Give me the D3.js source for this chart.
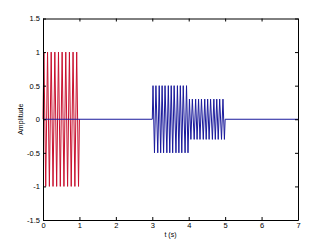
<!DOCTYPE html>
<html>
<head>
<meta charset="utf-8">
<script src="https://cdn.jsdelivr.net/npm/d3@7"></script>
<style>
  body { margin: 0; background: #fff; }
  svg { display: block; font-family: "Liberation Sans", Arial, sans-serif; }
  .axis text { font-size: 7.5px; fill: #000; }
  .axis path, .axis line { stroke: #000; stroke-width: 1; }
</style>
</head>
<body>
<script>
// Data (turning points of the waveforms)
var xTicks = [0, 1, 2, 3, 4, 5, 6, 7];
var yTicks = [-1.5, -1, -0.5, 0, 0.5, 1, 1.5];

// red burst, 0 - 1 s, amplitude 1
var redT = [0, 0.025, 0.075, 0.125, 0.175, 0.225, 0.275, 0.325, 0.375, 0.425, 0.475,
  0.525, 0.575, 0.625, 0.675, 0.725, 0.775, 0.825, 0.875, 0.925, 0.975, 1];
var redY = [0, 1, -1, 1, -1, 1, -1, 1, -1, 1, -1,
  1, -1, 1, -1, 1, -1, 1, -1, 1, -1, 0];

// blue trace: flat, burst 3 - 4 s (amp 0.5), burst 4 - 5 s (amp 0.3), flat
var blueT = [0, 3,
  3.02, 3.06, 3.10, 3.15, 3.19, 3.23, 3.27, 3.31, 3.35, 3.40, 3.44, 3.48,
  3.52, 3.56, 3.60, 3.65, 3.69, 3.73, 3.77, 3.81, 3.85, 3.90, 3.94, 3.98,
  4.02, 4.06, 4.10, 4.15, 4.19, 4.23, 4.27, 4.31, 4.35, 4.40, 4.44, 4.48,
  4.52, 4.56, 4.60, 4.65, 4.69, 4.73, 4.77, 4.81, 4.85, 4.90, 4.94, 4.98,
  5, 7];
var blueY = [0, 0,
  0.5, -0.5, 0.5, -0.5, 0.5, -0.5, 0.5, -0.5, 0.5, -0.5, 0.5, -0.5,
  0.5, -0.5, 0.5, -0.5, 0.5, -0.5, 0.5, -0.5, 0.5, -0.5, 0.5, -0.5,
  0.3, -0.3, 0.3, -0.3, 0.3, -0.3, 0.3, -0.3, 0.3, -0.3, 0.3, -0.3,
  0.3, -0.3, 0.3, -0.3, 0.3, -0.3, 0.3, -0.3, 0.3, -0.3, 0.3, -0.3,
  0, 0];

var w = 330, h = 248;
var padL = 43, padR = 298, padT = 18.5, padB = 220;

var x = d3.scaleLinear().domain([0, 7]).range([padL, padR]);
var y = d3.scaleLinear().domain([-1.5, 1.5]).range([padB, padT]);

var svg = d3.select("body").append("svg")
  .attr("width", w).attr("height", h);

svg.append("rect").attr("width", w).attr("height", h).attr("fill", "#fff");

var line = d3.line()
  .x(function (d) { return x(d[0]); })
  .y(function (d) { return y(d[1]); });

// red first, blue drawn on top
svg.append("path")
  .datum(redT.map(function (t, i) { return [t, redY[i]]; }))
  .attr("fill", "none")
  .attr("stroke", "#c8102e")
  .attr("stroke-width", 1)
  .attr("d", line);

svg.append("path")
  .datum(blueT.map(function (t, i) { return [t, blueY[i]]; }))
  .attr("fill", "none")
  .attr("stroke", "#1a1a9c")
  .attr("stroke-width", 1)
  .attr("d", line);

// axes box with inward ticks
svg.append("g").attr("class", "axis")
  .attr("transform", "translate(0," + padB + ")")
  .call(d3.axisBottom(x).tickValues(xTicks).tickSizeInner(-3).tickSizeOuter(0).tickPadding(3)
    .tickFormat(function (d) { return d; }));

svg.append("g").attr("class", "axis")
  .attr("transform", "translate(0," + padT + ")")
  .call(d3.axisTop(x).tickValues(xTicks).tickSizeInner(-3).tickSizeOuter(0).tickFormat(""));

svg.append("g").attr("class", "axis")
  .attr("transform", "translate(" + padL + ",0)")
  .call(d3.axisLeft(y).tickValues(yTicks).tickSizeInner(-3).tickSizeOuter(0).tickPadding(3)
    .tickFormat(function (d) { return d; }));

svg.append("g").attr("class", "axis")
  .attr("transform", "translate(" + padR + ",0)")
  .call(d3.axisRight(y).tickValues(yTicks).tickSizeInner(-3).tickSizeOuter(0).tickFormat(""));

// labels
svg.append("text")
  .attr("x", (padL + padR) / 2)
  .attr("y", 237)
  .attr("text-anchor", "middle")
  .style("font-size", "7px")
  .text("t (s)");

svg.append("text")
  .attr("transform", "translate(23," + ((padT + padB) / 2) + ") rotate(-90)")
  .attr("text-anchor", "middle")
  .style("font-size", "7px")
  .text("Amplitude");
</script>
</body>
</html>
